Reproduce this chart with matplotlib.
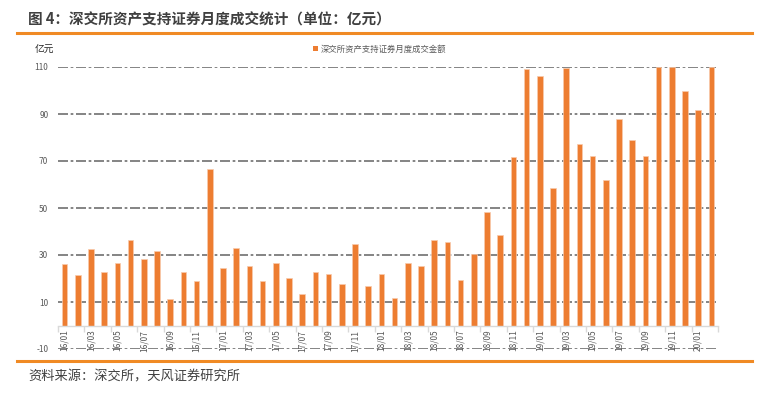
#!/usr/bin/python
"""
    Monthly turnover of asset-backed securities on the Shenzhen exchange
"""

import matplotlib
matplotlib.use('Agg')
import matplotlib.pyplot as plt
from matplotlib.lines import Line2D
from matplotlib.patches import Patch

plt.rcParams['font.family'] = ['Noto Sans CJK SC', 'DejaVu Sans']

# data (units: 亿元)
months = [
    '16/01', '16/02', '16/03', '16/04', '16/05', '16/06', '16/07', '16/08',
    '16/09', '16/10', '16/11', '16/12', '17/01', '17/02', '17/03', '17/04',
    '17/05', '17/06', '17/07', '17/08', '17/09', '17/10', '17/11', '17/12',
    '18/01', '18/02', '18/03', '18/04', '18/05', '18/06', '18/07', '18/08',
    '18/09', '18/10', '18/11', '18/12', '19/01', '19/02', '19/03', '19/04',
    '19/05', '19/06', '19/07', '19/08', '19/09', '19/10', '19/11', '19/12',
    '20/01', '20/02',
]
turnover = [
    26.0, 21.6, 32.6, 22.7, 26.4, 36.5, 28.5, 31.9, 11.1, 22.7,
    18.9, 66.7, 24.5, 32.9, 25.5, 18.9, 26.4, 20.1, 13.5, 22.7,
    22.0, 17.6, 34.5, 16.7, 22.1, 11.6, 26.5, 25.5, 36.2, 35.5,
    19.4, 30.6, 48.5, 38.7, 71.5, 109.2, 106.1, 58.4, 109.5, 77.2,
    72.2, 62.0, 87.7, 79.0, 72.1, 110.0, 110.0, 99.6, 91.5, 110.0,
]
y_ticks = [-10, 10, 30, 50, 70, 90, 110]

title = '图 4：深交所资产支持证券月度成交统计（单位：亿元）'
source = '资料来源：深交所，天风证券研究所'
series_name = '深交所资产支持证券月度成交金额'

ORANGE = '#ED7D31'
ACCENT = '#F08A24'
TEXT = '#595959'

W, H = 772, 404
fig = plt.figure(figsize=(W / 100, H / 100), dpi=100)
ax = fig.add_axes([58 / W, 1 - 349 / H, 660 / W, 282 / H])

x = list(range(len(months)))
ax.bar(x, turnover, width=0.43, color=ORANGE, edgecolor='#F8CBAD',
       linewidth=0.5, zorder=3)

ax.set_xlim(-0.5, len(months) - 0.5)
ax.set_ylim(-10, 110)

# dash-dot grid lines
ax.set_yticks(y_ticks)
ax.set_yticklabels([str(v) for v in y_ticks], fontsize=6, color=TEXT)
ax.tick_params(axis='y', length=0, pad=7)
for v in y_ticks:
    ax.axhline(v, color='#6F6F6F', linewidth=1.2,
               linestyle=(0, (6, 1.6, 1.6, 1.6)), zorder=1)

# category axis at zero
for side in ['top', 'right', 'left']:
    ax.spines[side].set_visible(False)
ax.spines['bottom'].set_position(('data', 0))
ax.spines['bottom'].set_color('#D9D9D9')
ax.spines['bottom'].set_linewidth(1.0)
ax.spines['bottom'].set_zorder(4)

bounds = [i - 0.5 for i in range(0, len(months) + 1, 2)]
ax.set_xticks(bounds)
ax.set_xticklabels([''] * len(bounds))
ax.tick_params(axis='x', which='major', length=4, color='#D9D9D9', width=1.0)
ax.set_xticks(x[::2], months[::2], minor=True)
ax.tick_params(axis='x', which='minor', length=0, pad=3, labelsize=6,
               labelcolor=TEXT, rotation=90)

# unit label and legend
fig.text(35 / W, 1 - 50 / H, '亿元', fontsize=7, color='#262626',
         va='center', ha='left')
fig.legend(handles=[Patch(facecolor=ORANGE, edgecolor='none')],
           labels=[series_name], loc='center left',
           bbox_to_anchor=(313 / W, 1 - 49 / H), frameon=False,
           fontsize=6, handlelength=0.6, handleheight=0.6,
           handletextpad=0.3, borderpad=0, borderaxespad=0,
           labelcolor=TEXT)

# title, orange rules and source
fig.text(28 / W, 1 - 20 / H, title, fontsize=10.5, fontweight='bold',
         color='#404040', va='center', ha='left')
for yy in [33, 361]:
    fig.add_artist(Line2D([17 / W, 752 / W], [1 - yy / H, 1 - yy / H],
                          color=ACCENT, linewidth=2.2))
fig.text(28 / W, 1 - 377 / H, source, fontsize=9.5, color='#404040',
         va='center', ha='left')

plt.savefig('out.png', dpi=100)
